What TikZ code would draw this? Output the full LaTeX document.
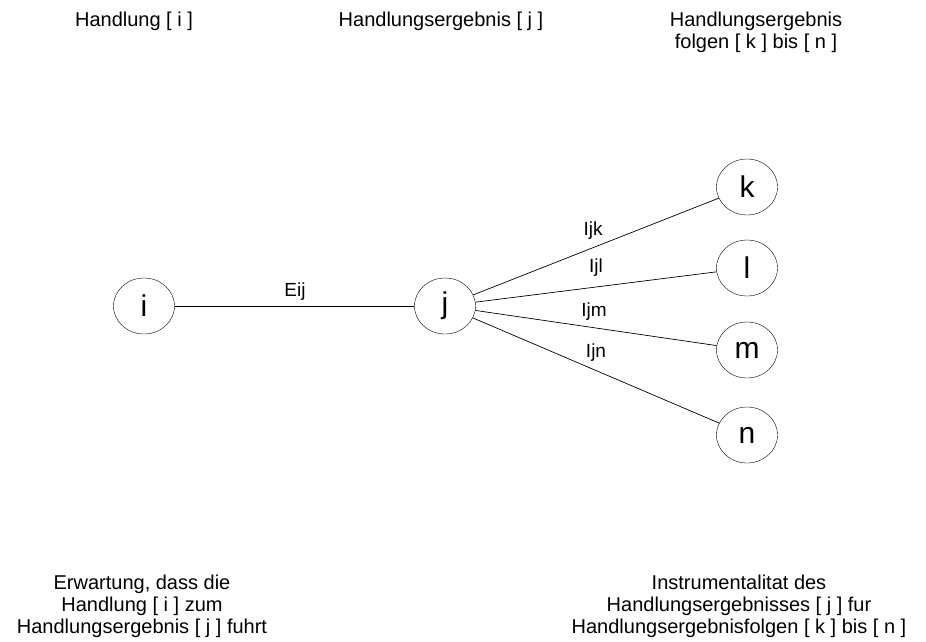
\documentclass[tikz,border=0pt]{standalone}
\usepackage{fontspec}
\setmainfont{Liberation Sans}
\usetikzlibrary{shapes.geometric}
\begin{document}
\begin{tikzpicture}[x=1pt,y=-1pt,
  vert/.style={draw,ellipse,minimum width=61pt,minimum height=56pt,inner sep=0pt,font=\fontsize{30}{34}\selectfont},
  captxt/.style={align=center,font=\fontsize{20}{22}\selectfont},
  lab/.style={font=\fontsize{19}{21}\selectfont},
  edge/.style={draw,line width=0.7pt}]
\useasboundingbox (0,0) rectangle (926,641);
\node[captxt] (t1) at (134,21) {Handlung [ i ]};
\node[captxt] (t2) at (441,21) {Handlungsergebnis [ j ]};
\node[captxt] (t3) at (756,32) {Handlungsergebnis\\folgen [ k ] bis [ n ]};
\node[captxt] (b1) at (142,606) {Erwartung, dass die\\Handlung [ i ] zum\\Handlungsergebnis [ j ] fuhrt};
\node[captxt] (b2) at (739,606) {Instrumentalitat des\\Handlungsergebnisses [ j ] fur\\Handlungsergebnisfolgen [ k ] bis [ n ]};
\node[vert] (i) at (144,306) {i};
\node[vert] (j) at (445,306) {j};
\node[vert] (k) at (747,187) {k};
\node[vert] (l) at (747,268) {l};
\node[vert] (m) at (747,350) {m};
\node[vert] (n) at (747,435) {n};
\draw[edge] (i) -- (j);
\draw[edge] (j) -- (k);
\draw[edge] (j) -- (l);
\draw[edge] (j) -- (m);
\draw[edge] (j) -- (n);
\node[lab] (le) at (295,292) {Eij};
\node[lab] (lk) at (593,231) {Ijk};
\node[lab] (ll) at (596,268) {Ijl};
\node[lab] (lm) at (594,312) {Ijm};
\node[lab] (ln) at (596,353) {Ijn};
\end{tikzpicture}
\end{document}
